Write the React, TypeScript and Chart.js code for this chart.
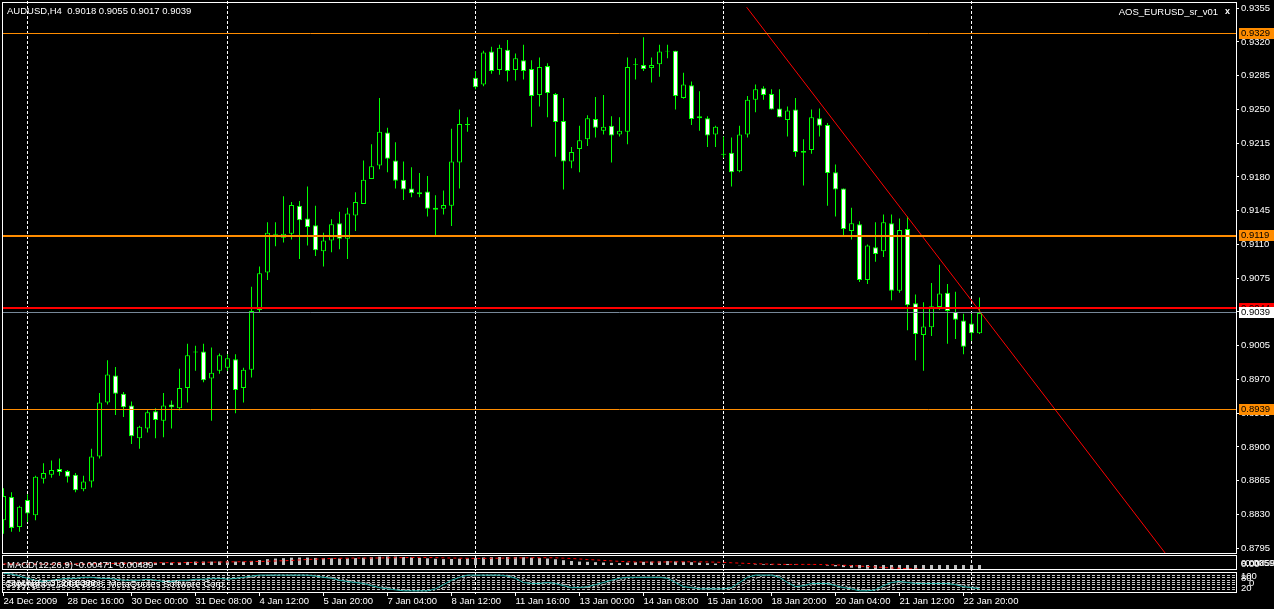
import React, { useEffect, useRef } from 'react';
import { Chart, registerables } from 'chart.js';
Chart.register(...registerables);

const W = 1274;
const H = 609;
const FONT = "'Liberation Sans', Arial, sans-serif";

const SYMBOL = 'AUDUSD';
const TIMEFRAME = 'H4';
const INDICATOR_NAME = 'AOS_EURUSD_sr_v01';

const OPEN = [
  0.8824, 0.8848, 0.8817, 0.8845, 0.8829, 0.8867, 0.8871, 0.8877, 0.8875, 0.8871,
  0.8856, 0.8864, 0.8890, 0.8946, 0.8974, 0.8955, 0.8943, 0.8909, 0.8919, 0.8937,
  0.8927, 0.8944, 0.8940, 0.8961, 0.8998, 0.8999, 0.8971, 0.8979, 0.8982, 0.8991,
  0.8961, 0.8980, 0.9042, 0.9081, 0.9120, 0.9117, 0.9121, 0.9150, 0.9137, 0.9130,
  0.9103, 0.9114, 0.9132, 0.9116, 0.9140, 0.9152, 0.9178, 0.9192, 0.9226, 0.9197,
  0.9177, 0.9168, 0.9162, 0.9165, 0.9146, 0.9147, 0.9150, 0.9195, 0.9234, 0.9283,
  0.9276, 0.9310, 0.9291, 0.9312, 0.9291, 0.9301, 0.9292, 0.9265, 0.9295, 0.9266,
  0.9238, 0.9196, 0.9209, 0.9219, 0.9240, 0.9228, 0.9233, 0.9224, 0.9227, 0.9296,
  0.9296, 0.9293, 0.9297, 0.9310, 0.9311, 0.9262, 0.9275, 0.9241, 0.9241, 0.9224,
  0.9203, 0.9205, 0.9186, 0.9224, 0.9260, 0.9272, 0.9266, 0.9251, 0.9239, 0.9250,
  0.9205, 0.9208, 0.9241, 0.9234, 0.9185, 0.9168, 0.9124, 0.9131, 0.9073, 0.9107,
  0.9103, 0.9132, 0.9062, 0.9126, 0.9049, 0.9016, 0.9024, 0.9045, 0.9060, 0.9040,
  0.9031, 0.9028, 0.9018,
];
const HIGH = [
  0.8857, 0.8853, 0.8839, 0.8851, 0.8870, 0.8883, 0.8886, 0.8888, 0.8876, 0.8873,
  0.8870, 0.8898, 0.8956, 0.8990, 0.8983, 0.8957, 0.8947, 0.8922, 0.8938, 0.8940,
  0.8956, 0.8948, 0.8981, 0.9007, 0.9005, 0.9007, 0.9003, 0.8997, 0.8996, 0.8996,
  0.8982, 0.9066, 0.9087, 0.9133, 0.9133, 0.9160, 0.9154, 0.9155, 0.9170, 0.9150,
  0.9122, 0.9136, 0.9144, 0.9148, 0.9164, 0.9197, 0.9214, 0.9262, 0.9231, 0.9216,
  0.9196, 0.9190, 0.9184, 0.9181, 0.9161, 0.9166, 0.9230, 0.9250, 0.9242, 0.9290,
  0.9311, 0.9315, 0.9317, 0.9322, 0.9308, 0.9317, 0.9301, 0.9304, 0.9298, 0.9267,
  0.9262, 0.9211, 0.9233, 0.9244, 0.9263, 0.9265, 0.9243, 0.9242, 0.9304, 0.9303,
  0.9325, 0.9304, 0.9317, 0.9317, 0.9311, 0.9288, 0.9279, 0.9269, 0.9243, 0.9233,
  0.9222, 0.9221, 0.9233, 0.9264, 0.9276, 0.9274, 0.9271, 0.9271, 0.9253, 0.9262,
  0.9219, 0.9250, 0.9251, 0.9236, 0.9193, 0.9168, 0.9148, 0.9134, 0.9110, 0.9133,
  0.9141, 0.9141, 0.9137, 0.9139, 0.9058, 0.9050, 0.9070, 0.9089, 0.9069, 0.9061,
  0.9038, 0.9038, 0.9055,
];
const LOW = [
  0.8810, 0.8812, 0.8812, 0.8822, 0.8824, 0.8862, 0.8868, 0.8870, 0.8863, 0.8853,
  0.8854, 0.8858, 0.8888, 0.8944, 0.8933, 0.8931, 0.8903, 0.8898, 0.8915, 0.8909,
  0.8910, 0.8919, 0.8938, 0.8946, 0.8979, 0.8967, 0.8927, 0.8976, 0.8979, 0.8935,
  0.8946, 0.8972, 0.9039, 0.9073, 0.9108, 0.9112, 0.9115, 0.9095, 0.9109, 0.9098,
  0.9087, 0.9102, 0.9105, 0.9095, 0.9124, 0.9152, 0.9178, 0.9188, 0.9185, 0.9168,
  0.9156, 0.9159, 0.9159, 0.9139, 0.9119, 0.9141, 0.9129, 0.9168, 0.9227, 0.9271,
  0.9274, 0.9287, 0.9286, 0.9279, 0.9280, 0.9281, 0.9232, 0.9253, 0.9242, 0.9201,
  0.9167, 0.9189, 0.9185, 0.9212, 0.9221, 0.9224, 0.9195, 0.9222, 0.9214, 0.9281,
  0.9290, 0.9278, 0.9284, 0.9303, 0.9250, 0.9261, 0.9234, 0.9228, 0.9211, 0.9211,
  0.9200, 0.9170, 0.9185, 0.9221, 0.9247, 0.9260, 0.9250, 0.9242, 0.9222, 0.9201,
  0.9171, 0.9204, 0.9222, 0.9150, 0.9139, 0.9119, 0.9115, 0.9071, 0.9069, 0.9092,
  0.9097, 0.9052, 0.9060, 0.9021, 0.8990, 0.8979, 0.9015, 0.9042, 0.9007, 0.9012,
  0.8996, 0.9010, 0.9017,
];
const CLOSE = [
  0.8849, 0.8816, 0.8838, 0.8831, 0.8869, 0.8873, 0.8876, 0.8874, 0.8869, 0.8855,
  0.8864, 0.8890, 0.8946, 0.8975, 0.8955, 0.8941, 0.8911, 0.8921, 0.8936, 0.8928,
  0.8943, 0.8941, 0.8961, 0.8995, 0.8999, 0.8969, 0.8977, 0.8995, 0.8992, 0.8959,
  0.8980, 0.9041, 0.9080, 0.9122, 0.9121, 0.9121, 0.9151, 0.9135, 0.9128, 0.9104,
  0.9114, 0.9131, 0.9116, 0.9142, 0.9154, 0.9177, 0.9191, 0.9227, 0.9199, 0.9176,
  0.9167, 0.9163, 0.9164, 0.9147, 0.9148, 0.9151, 0.9196, 0.9235, 0.9235, 0.9273,
  0.9309, 0.9290, 0.9314, 0.9290, 0.9303, 0.9290, 0.9264, 0.9294, 0.9267, 0.9237,
  0.9196, 0.9206, 0.9218, 0.9241, 0.9231, 0.9232, 0.9223, 0.9228, 0.9294, 0.9297,
  0.9292, 0.9296, 0.9310, 0.9311, 0.9264, 0.9276, 0.9240, 0.9243, 0.9223, 0.9232,
  0.9204, 0.9185, 0.9224, 0.9260, 0.9271, 0.9265, 0.9250, 0.9242, 0.9249, 0.9206,
  0.9207, 0.9242, 0.9233, 0.9184, 0.9167, 0.9126, 0.9132, 0.9073, 0.9109, 0.9100,
  0.9133, 0.9062, 0.9125, 0.9047, 0.9017, 0.9025, 0.9046, 0.9059, 0.9041, 0.9032,
  0.9004, 0.9018, 0.9039,
];

const X_TICK_BARS = [0, 8, 16, 24, 32, 40, 48, 56, 64, 72, 80, 88, 96, 104, 112, 120];
const X_TICK_LABELS = [
  '24 Dec 2009', '28 Dec 16:00', '30 Dec 00:00', '31 Dec 08:00', '4 Jan 12:00', '5 Jan 20:00',
  '7 Jan 04:00', '8 Jan 12:00', '11 Jan 16:00', '13 Jan 00:00', '14 Jan 08:00', '15 Jan 16:00',
  '18 Jan 20:00', '20 Jan 04:00', '21 Jan 12:00', '22 Jan 20:00',
];
const Y_TICKS = [
  0.9355, 0.932, 0.9285, 0.925, 0.9215, 0.918, 0.9145, 0.911, 0.9075, 0.904, 0.9005,
  0.897, 0.8935, 0.89, 0.8865, 0.883, 0.8795,
];
const SEPARATOR_BARS = [3, 28, 59, 90, 121];
const ORANGE_LEVELS = [0.9329, 0.9119, 0.8939];
const ORANGE_LEVEL_WIDTHS = [1, 2, 1];
const RED_LEVEL = 0.9044;
const BID_PRICE = 0.9039;
const TREND_X = [92.9, 150];
const TREND_Y = [0.9356, 0.8738];

const MACD_MAIN = [
  0.0010, 0.0009, 0.0008, 0.0008, 0.0009, 0.0010, 0.0011, 0.0012, 0.0012, 0.0011,
  0.0011, 0.0012, 0.0016, 0.0020, 0.0022, 0.0022, 0.0020, 0.0019, 0.0019, 0.0019,
  0.0020, 0.0020, 0.0022, 0.0026, 0.0029, 0.0029, 0.0029, 0.0030, 0.0031, 0.0029,
  0.0029, 0.0035, 0.0042, 0.0050, 0.0055, 0.0058, 0.0062, 0.0063, 0.0063, 0.0060,
  0.0058, 0.0057, 0.0056, 0.0057, 0.0059, 0.0062, 0.0066, 0.0071, 0.0072, 0.0071,
  0.0068, 0.0065, 0.0061, 0.0057, 0.0053, 0.0050, 0.0051, 0.0054, 0.0056, 0.0060,
  0.0064, 0.0066, 0.0068, 0.0068, 0.0067, 0.0066, 0.0062, 0.0059, 0.0055, 0.0049,
  0.0041, 0.0034, 0.0029, 0.0027, 0.0024, 0.0021, 0.0018, 0.0016, 0.0020, 0.0024,
  0.0027, 0.0029, 0.0031, 0.0033, 0.0030, 0.0028, 0.0024, 0.0020, 0.0015, 0.0012,
  0.0006, 0.0000, -0.0002, 0.0000, 0.0004, 0.0006, 0.0007, 0.0007, 0.0008, 0.0005,
  0.0001, 0.0001, 0.0000, -0.0005, -0.0011, -0.0018, -0.0023, -0.0029, -0.0032, -0.0034,
  -0.0034, -0.0039, -0.0039, -0.0042, -0.0047, -0.0050, -0.0049, -0.0047, -0.0047, -0.0047,
  -0.0050, -0.0051, -0.00471,
];
const MACD_SIGNAL = [
  0.0009, 0.0009, 0.0009, 0.0009, 0.0009, 0.0009, 0.0009, 0.0010, 0.0010, 0.0010,
  0.0010, 0.0011, 0.0011, 0.0012, 0.0014, 0.0015, 0.0016, 0.0017, 0.0018, 0.0019,
  0.0020, 0.0020, 0.0020, 0.0021, 0.0022, 0.0023, 0.0024, 0.0025, 0.0026, 0.0027,
  0.0028, 0.0029, 0.0030, 0.0032, 0.0034, 0.0036, 0.0039, 0.0043, 0.0047, 0.0050,
  0.0053, 0.0055, 0.0057, 0.0058, 0.0059, 0.0059, 0.0059, 0.0060, 0.0061, 0.0062,
  0.0063, 0.0064, 0.0065, 0.0064, 0.0063, 0.0061, 0.0059, 0.0058, 0.0057, 0.0056,
  0.0056, 0.0057, 0.0058, 0.0059, 0.0060, 0.0061, 0.0062, 0.0062, 0.0062, 0.0061,
  0.0058, 0.0055, 0.0051, 0.0047, 0.0043, 0.0039, 0.0035, 0.0031, 0.0028, 0.0026,
  0.0025, 0.0025, 0.0025, 0.0026, 0.0027, 0.0027, 0.0027, 0.0027, 0.0026, 0.0024,
  0.0022, 0.0019, 0.0016, 0.0013, 0.0011, 0.0009, 0.0007, 0.0006, 0.0005, 0.0005,
  0.0005, 0.0005, 0.0004, 0.0003, 0.0001, -0.0002, -0.0005, -0.0009, -0.0013, -0.0017,
  -0.0021, -0.0025, -0.0028, -0.0031, -0.0034, -0.0037, -0.0040, -0.0043, -0.0045, -0.0047,
  -0.0048, -0.0049, -0.00489,
];
const MACD_Y_MIN = -0.00425;
const MACD_Y_MAX = 0.00765;

const OSC = [
  88, 84, 76, 67, 59, 54, 59, 63, 67, 67,
  71, 71, 67, 67, 63, 59, 59, 59, 63, 59,
  54, 54, 59, 59, 63, 63, 67, 67, 63, 67,
  71, 76, 80, 80, 80, 80, 80, 80, 80, 76,
  71, 67, 59, 54, 50, 46, 37, 29, 24, 20,
  16, 16, 16, 16, 24, 41, 59, 71, 80, 80,
  80, 80, 80, 76, 67, 50, 46, 46, 50, 46,
  37, 29, 29, 33, 41, 50, 59, 67, 71, 71,
  71, 71, 71, 67, 50, 33, 29, 24, 24, 24,
  24, 29, 50, 71, 80, 80, 80, 71, 50, 33,
  37, 46, 46, 46, 37, 29, 24, 16, 16, 20,
  37, 50, 54, 50, 46, 46, 46, 46, 46, 41,
  33, 29, 24,
];
const OSC_SIGNAL = [
  86, 85, 83, 76, 67, 60, 57, 59, 63, 66,
  68, 70, 70, 68, 66, 63, 60, 59, 60, 60,
  59, 56, 56, 57, 60, 62, 64, 66, 66, 66,
  67, 71, 76, 79, 80, 80, 80, 80, 80, 79,
  76, 71, 66, 60, 54, 50, 44, 37, 30, 24,
  20, 17, 16, 16, 19, 27, 41, 57, 70, 77,
  80, 80, 80, 79, 74, 64, 54, 47, 47, 47,
  44, 37, 32, 30, 34, 41, 50, 59, 66, 70,
  71, 71, 71, 70, 63, 50, 37, 29, 26, 24,
  24, 26, 34, 50, 67, 77, 80, 77, 67, 51,
  40, 39, 43, 46, 43, 37, 30, 23, 19, 17,
  24, 36, 47, 51, 50, 47, 46, 46, 46, 44,
  40, 34, 29,
];
const OSC_LEVELS = [20, 30, 40, 50, 60, 70, 80];

// layout (pixels)
const AREA_LEFT = 2;
const AXIS_W = 37;
const X_MIN = -0.1875;
const X_MAX = 154.1875;
const MAIN_TOP = 2;
const MAIN_BOTTOM = 554;
const MAIN_Y_MIN = 0.878891;
const MAIN_Y_MAX = 0.936146;
const MACD_TOP = 556;
const MACD_BOTTOM = 570;
const OSC_TOP = 573;
const OSC_BOTTOM = 592;

const GREEN = '#00ff00';
const ORANGE = '#ff8c00';

const fmt4 = (v: number) => v.toFixed(4);

function drawSeparators(chart: any) {
  const { ctx, chartArea, scales } = chart;
  ctx.save();
  ctx.strokeStyle = '#ffffff';
  ctx.lineWidth = 1;
  ctx.setLineDash([3, 2]);
  SEPARATOR_BARS.forEach((b) => {
    const px = scales.x.getPixelForValue(b);
    ctx.beginPath();
    ctx.moveTo(px, chartArea.top - 1);
    ctx.lineTo(px, chartArea.bottom + 1);
    ctx.stroke();
  });
  ctx.restore();
}

function drawBox(ctx: CanvasRenderingContext2D, area: any) {
  ctx.save();
  ctx.strokeStyle = '#ffffff';
  ctx.lineWidth = 1;
  ctx.setLineDash([]);
  ctx.strokeRect(area.left + 0.5, area.top - 0.5, area.right - area.left - 1, area.bottom - area.top);
  ctx.restore();
}

const hLine = (ctx: CanvasRenderingContext2D, y: number, x0: number, x1: number, color: string, w: number) => {
  ctx.strokeStyle = color;
  ctx.lineWidth = w;
  ctx.setLineDash([]);
  ctx.beginPath();
  const yy = w % 2 === 1 ? Math.floor(y) + 0.5 : Math.round(y);
  ctx.moveTo(x0, yy);
  ctx.lineTo(x1, yy);
  ctx.stroke();
};

const mainPlugin = {
  id: 'mainDecor',
  beforeDatasetsDraw(chart: any) {
    drawSeparators(chart);
  },
  afterDatasetsDraw(chart: any) {
    const { ctx, chartArea, scales } = chart;
    ctx.save();
    ORANGE_LEVELS.forEach((p, k) =>
      hLine(ctx, scales.y.getPixelForValue(p), chartArea.left, chartArea.right, ORANGE, ORANGE_LEVEL_WIDTHS[k]),
    );
    hLine(ctx, scales.y.getPixelForValue(RED_LEVEL), chartArea.left, chartArea.right, '#ff0000', 2);
    hLine(ctx, scales.y.getPixelForValue(BID_PRICE), chartArea.left, chartArea.right, '#778899', 1);
    ctx.restore();
  },
  afterDraw(chart: any) {
    const { ctx, chartArea, scales } = chart;
    ctx.save();
    ctx.strokeStyle = '#ffffff';
    ctx.lineWidth = 1;
    ctx.strokeRect(chartArea.left + 0.5, chartArea.top + 0.5, chartArea.right - chartArea.left - 1, chartArea.bottom - chartArea.top - 1);
    const label = (p: number, bg: string, fg: string) => {
      const py = Math.floor(scales.y.getPixelForValue(p));
      ctx.fillStyle = bg;
      ctx.fillRect(chartArea.right + 2, py - 5, 35, 11);
      ctx.fillStyle = fg;
      ctx.font = `9.5px ${FONT}`;
      ctx.textAlign = 'left';
      ctx.textBaseline = 'middle';
      ctx.fillText(fmt4(p), chartArea.right + 4, py + 0.5);
    };
    ORANGE_LEVELS.forEach((p) => label(p, ORANGE, '#000000'));
    label(RED_LEVEL, '#ff0000', '#000000');
    label(BID_PRICE, '#ffffff', '#000000');
    const n = OPEN.length - 1;
    ctx.fillStyle = '#ffffff';
    ctx.font = `9.5px ${FONT}`;
    ctx.textBaseline = 'middle';
    ctx.textAlign = 'left';
    ctx.fillText(`${SYMBOL},${TIMEFRAME}  ${fmt4(OPEN[n])} ${fmt4(HIGH[n])} ${fmt4(LOW[n])} ${fmt4(CLOSE[n])}`, 7, 11);
    ctx.textAlign = 'right';
    ctx.fillText(INDICATOR_NAME, 1218, 12);
    ctx.font = `bold 9px ${FONT}`;
    ctx.textAlign = 'left';
    ctx.fillText('x', 1225, 12);
    ctx.restore();
  },
};

function makeMain(canvas: HTMLCanvasElement) {
  const idx = OPEN.map((_, i) => i);
  return new Chart(canvas, {
    type: 'bar',
    data: {
      datasets: [
        {
          type: 'line',
          label: 'trend',
          data: TREND_X.map((x, i) => ({ x, y: TREND_Y[i] })),
          borderColor: '#ff0000',
          borderWidth: 1,
          pointRadius: 0,
          order: -1,
        } as any,
        {
          type: 'bar',
          label: 'body',
          data: idx.map((i) => ({ x: i, y: [OPEN[i], CLOSE[i]] })),
          backgroundColor: idx.map((i) => (CLOSE[i] >= OPEN[i] ? '#000000' : '#ffffff')),
          borderColor: GREEN,
          borderWidth: 1,
          borderSkipped: false,
          barThickness: 5,
          grouped: false,
          inflateAmount: 0,
          order: 0,
        } as any,
        {
          type: 'bar',
          label: 'wick',
          data: idx.map((i) => ({ x: i, y: [LOW[i], HIGH[i]] })),
          backgroundColor: GREEN,
          borderWidth: 0,
          barThickness: 1,
          grouped: false,
          inflateAmount: 0,
          order: 1,
        } as any,
      ],
    },
    options: {
      responsive: false,
      animation: false,
      devicePixelRatio: 1,
      events: [],
      layout: { padding: { left: AREA_LEFT, top: MAIN_TOP, right: 0, bottom: H - MAIN_BOTTOM } },
      plugins: { legend: { display: false }, tooltip: { enabled: false } },
      scales: {
        x: { type: 'linear', min: X_MIN, max: X_MAX, display: false, offset: false },
        y: {
          type: 'linear',
          position: 'right',
          min: MAIN_Y_MIN,
          max: MAIN_Y_MAX,
          beginAtZero: false,
          afterBuildTicks: (s: any) => {
            s.ticks = Y_TICKS.map((v) => ({ value: v }));
          },
          afterFit: (s: any) => {
            s.width = AXIS_W;
            s.paddingTop = 0;
            s.paddingBottom = 0;
          },
          ticks: {
            color: '#ffffff',
            font: { family: FONT, size: 9.5 },
            padding: 2,
            autoSkip: false,
            callback: (v: any) => Number(v).toFixed(4),
          },
          grid: { display: true, drawOnChartArea: false, drawTicks: true, tickLength: 2, color: '#ffffff' },
          border: { display: false },
        },
      },
    } as any,
    plugins: [mainPlugin],
  });
}

const macdPlugin = {
  id: 'macdDecor',
  beforeDatasetsDraw(chart: any) {
    drawSeparators(chart);
  },
  afterDraw(chart: any) {
    const { ctx, chartArea } = chart;
    drawBox(ctx, chartArea);
    ctx.save();
    ctx.fillStyle = '#ffffff';
    ctx.font = `9.5px ${FONT}`;
    ctx.textBaseline = 'middle';
    ctx.textAlign = 'left';
    const n = MACD_MAIN.length - 1;
    ctx.fillText(`MACD(12,26,9) ${MACD_MAIN[n].toFixed(5)} ${MACD_SIGNAL[n].toFixed(5)}`, 7, 565);
    ctx.fillText('0.008597', chartArea.right + 4, 563);
    ctx.fillText('0.00', chartArea.right + 4, 564);
    ctx.fillText('-0.00598', chartArea.right + 5, 563);
    ctx.restore();
  },
};

function makeMacd(canvas: HTMLCanvasElement) {
  const idx = MACD_MAIN.map((_, i) => i);
  return new Chart(canvas, {
    type: 'bar',
    data: {
      datasets: [
        {
          type: 'line',
          label: 'signal',
          data: idx.map((i) => ({ x: i, y: MACD_SIGNAL[i] })),
          borderColor: '#ff0000',
          borderWidth: 1,
          borderDash: [3, 3],
          pointRadius: 0,
          order: 0,
        } as any,
        {
          type: 'bar',
          label: 'macd',
          data: idx.map((i) => ({ x: i, y: MACD_MAIN[i] })),
          backgroundColor: '#c0c0c0',
          borderWidth: 0,
          barThickness: 3,
          grouped: false,
          inflateAmount: 0,
          order: 1,
        } as any,
      ],
    },
    options: {
      responsive: false,
      animation: false,
      devicePixelRatio: 1,
      events: [],
      layout: { padding: { left: AREA_LEFT, top: MACD_TOP, right: AXIS_W, bottom: H - MACD_BOTTOM } },
      plugins: { legend: { display: false }, tooltip: { enabled: false } },
      scales: {
        x: { type: 'linear', min: X_MIN, max: X_MAX, display: false, offset: false },
        y: { type: 'linear', min: MACD_Y_MIN, max: MACD_Y_MAX, display: false, beginAtZero: false },
      },
    } as any,
    plugins: [macdPlugin],
  });
}

const oscPlugin = {
  id: 'oscDecor',
  beforeDatasetsDraw(chart: any) {
    const { ctx, chartArea, scales } = chart;
    ctx.save();
    ctx.strokeStyle = '#c8c8c8';
    ctx.lineWidth = 1;
    ctx.setLineDash([3, 2]);
    OSC_LEVELS.forEach((v) => {
      const py = Math.floor(scales.y.getPixelForValue(v)) + 0.5;
      ctx.beginPath();
      ctx.moveTo(chartArea.left, py);
      ctx.lineTo(chartArea.right, py);
      ctx.stroke();
    });
    ctx.restore();
    drawSeparators(chart);
  },
  afterDraw(chart: any) {
    const { ctx, chartArea } = chart;
    drawBox(ctx, chartArea);
    ctx.save();
    ctx.fillStyle = '#ffffff';
    ctx.font = `9.5px ${FONT}`;
    ctx.textBaseline = 'middle';
    ctx.textAlign = 'left';
    ctx.fillText(`Stoch(8,3,3) ${OSC[OSC.length - 1].toFixed(4)}`, 7, 583);
    ctx.fillText('Copyright \u00a9 2001-2008, MetaQuotes Software Corp.', 5, 584);
    ctx.fillText('100', chartArea.right + 4, 576);
    ctx.fillText('80', chartArea.right + 4, 578);
    ctx.fillText('20', chartArea.right + 4, 588);
    ctx.fillText('0', chartArea.right + 12, 583);
    ctx.restore();
  },
};

function makeOsc(canvas: HTMLCanvasElement) {
  const idx = OSC.map((_, i) => i);
  return new Chart(canvas, {
    type: 'line',
    data: {
      datasets: [
        {
          label: 'osc',
          data: idx.map((i) => ({ x: i, y: OSC[i] })),
          borderColor: '#20b2aa',
          borderWidth: 1,
          pointRadius: 0,
          tension: 0,
          order: 0,
        },
        {
          label: 'signal',
          data: idx.map((i) => ({ x: i, y: OSC_SIGNAL[i] })),
          borderColor: '#d0d0d0',
          borderWidth: 1,
          borderDash: [2, 2],
          pointRadius: 0,
          tension: 0,
          order: 1,
        },
      ],
    },
    options: {
      responsive: false,
      animation: false,
      devicePixelRatio: 1,
      events: [],
      layout: { padding: { left: AREA_LEFT, top: OSC_TOP, right: AXIS_W, bottom: 0 } },
      plugins: { legend: { display: false }, tooltip: { enabled: false } },
      scales: {
        x: {
          type: 'linear',
          min: X_MIN,
          max: X_MAX,
          offset: false,
          position: 'bottom',
          afterBuildTicks: (s: any) => {
            s.ticks = X_TICK_BARS.map((v) => ({ value: v }));
          },
          afterFit: (s: any) => {
            s.height = H - OSC_BOTTOM - 1;
            s.paddingLeft = 0;
            s.paddingRight = 0;
          },
          ticks: {
            color: '#ffffff',
            font: { family: FONT, size: 9.5 },
            align: 'start',
            maxRotation: 0,
            minRotation: 0,
            autoSkip: false,
            padding: 0,
            callback: (v: any) => X_TICK_LABELS[X_TICK_BARS.indexOf(Number(v))] ?? '',
          },
          grid: { display: true, drawOnChartArea: false, drawTicks: true, tickLength: 3, color: '#ffffff' },
          border: { display: false },
        },
        y: { type: 'linear', min: 7.14, max: 88.57, display: false },
      },
    } as any,
    plugins: [oscPlugin],
  });
}

export default function App() {
  const mainRef = useRef<HTMLCanvasElement>(null);
  const macdRef = useRef<HTMLCanvasElement>(null);
  const oscRef = useRef<HTMLCanvasElement>(null);

  useEffect(() => {
    Chart.defaults.font.family = FONT;
    const charts = [
      makeMain(mainRef.current as HTMLCanvasElement),
      makeMacd(macdRef.current as HTMLCanvasElement),
      makeOsc(oscRef.current as HTMLCanvasElement),
    ];
    return () => charts.forEach((c) => c.destroy());
  }, []);

  const cs: React.CSSProperties = { position: 'absolute', left: 0, top: 0, width: W, height: H };
  return (
    <div style={{ position: 'fixed', left: 0, top: 0, width: W, height: H, background: '#000000', overflow: 'hidden' }}>
      <canvas ref={mainRef} width={W} height={H} style={cs} />
      <canvas ref={macdRef} width={W} height={H} style={cs} />
      <canvas ref={oscRef} width={W} height={H} style={cs} />
    </div>
  );
}
